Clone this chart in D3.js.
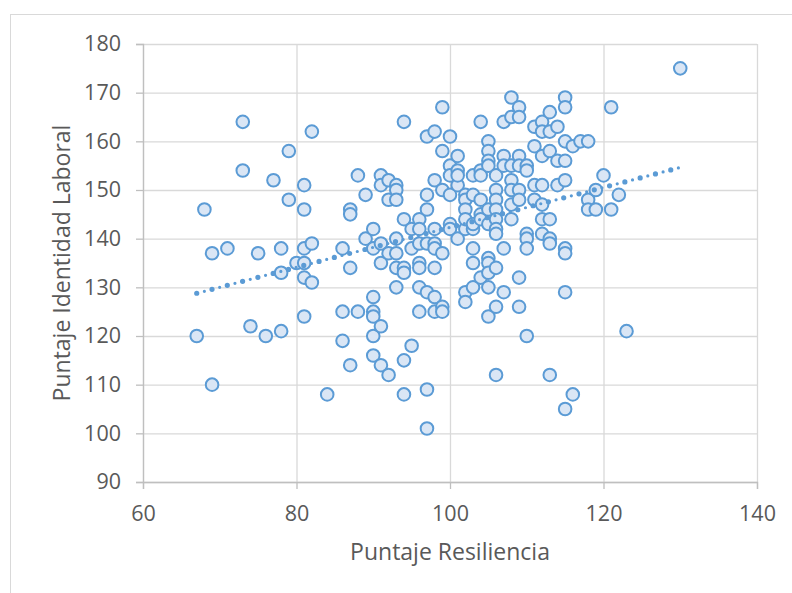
<!DOCTYPE html>
<html>
<head>
  <title>Resiliencia vs Identidad Laboral</title>
  <script src="https://d3js.org/d3.v7.min.js"></script>
  <style>
    body { margin: 0; background: #fff; }
    svg text { font-family: "Open Sans", sans-serif; fill: #595959; }
  </style>
</head>
<body>

<div id="scatter-plot"></div>

<script>
// Puntaje Resiliencia (x) and Puntaje Identidad Laboral (y)
const resiliencia = [
  68, 67, 69, 69, 71, 73, 73, 74, 75, 76, 77, 78, 78, 78, 79, 79, 80, 81, 81, 81,
  81, 81, 81, 82, 82, 82, 84, 86, 86, 86, 87, 87, 87, 87, 88, 88, 89, 89,
  90, 90, 90, 90, 90, 90, 90,
  91, 91, 91, 91, 91, 91,
  92, 92, 92, 92,
  93, 93, 93, 93, 93, 93, 93,
  94, 94, 94, 94, 94, 94,
  95, 95, 95,
  96, 96, 96, 96, 96, 96, 96,
  97, 97, 97, 97, 97, 97, 97,
  98, 98, 98, 98, 98, 98, 98, 98,
  99, 99, 99, 99, 99, 99,
  100, 100, 100, 100, 100, 100,
  101, 101, 101, 101, 101,
  102, 102, 102, 102, 102, 102, 102,
  103, 103, 103, 103, 103, 103, 103,
  104, 104, 104, 104, 104, 104, 104,
  105, 105, 105, 105, 105, 105, 105, 105, 105, 105, 105,
  106, 106, 106, 106, 106, 106, 106, 106, 106, 106,
  107, 107, 107, 107, 107,
  108, 108, 108, 108, 108, 108, 108,
  109, 109, 109, 109, 109, 109, 109, 109,
  110, 110, 110, 110, 110, 110,
  111, 111, 111, 111,
  112, 112, 112, 112, 112, 112, 112,
  113, 113, 113, 113, 113, 113, 113,
  114, 114, 114,
  115, 115, 115, 115, 115, 115, 115, 115, 115,
  116, 116, 117, 118, 118, 118, 119, 119, 120, 121, 121, 122, 123, 130
];
const identidad = [
  146, 120, 137, 110, 138, 164, 154, 122, 137, 120, 152, 138, 133, 121, 158, 148, 135, 151, 146, 138,
  132, 124, 135, 162, 131, 139, 108, 138, 125, 119, 146, 145, 134, 114, 153, 125, 149, 140,
  142, 138, 128, 125, 124, 120, 116,
  153, 151, 139, 135, 122, 114,
  152, 148, 137, 112,
  151, 150, 148, 140, 137, 134, 130,
  164, 144, 134, 133, 115, 108,
  142, 138, 118,
  144, 142, 135, 134, 130, 125, 139,
  161, 149, 146, 129, 109, 101, 139,
  162, 152, 142, 139, 138, 134, 128, 125,
  167, 158, 150, 137, 126, 125,
  161, 155, 153, 149, 143, 142,
  157, 154, 151, 140, 153,
  149, 148, 146, 142, 129, 127, 144,
  153, 149, 142, 138, 135, 130, 143,
  164, 154, 153, 148, 145, 144, 132,
  160, 158, 156, 146, 143, 136, 135, 133, 130, 124, 155,
  153, 150, 148, 146, 144, 142, 141, 134, 126, 112,
  164, 157, 155, 138, 129,
  169, 165, 155, 152, 150, 147, 144,
  167, 165, 157, 155, 150, 148, 132, 126,
  155, 154, 141, 140, 138, 120,
  163, 159, 151, 148,
  164, 162, 157, 151, 147, 144, 141,
  166, 162, 158, 144, 140, 139, 112,
  163, 156, 151,
  169, 167, 160, 156, 152, 138, 137, 129, 105,
  159, 108, 160, 160, 148, 146, 150, 146, 153, 167, 146, 149, 121, 175
];
const xTicks = [60, 80, 100, 120, 140];
const yTicks = [90, 100, 110, 120, 130, 140, 150, 160, 170, 180];

const data = resiliencia.map((x, i) => ({ x: x, y: identidad[i] }));

const W = 792, H = 593;
const margin = { top: 44, right: 35, bottom: 111, left: 143 };
const width = W - margin.left - margin.right;
const height = H - margin.top - margin.bottom;

const root = d3.select("#scatter-plot")
  .append("svg")
  .attr("width", W)
  .attr("height", H);

// chart frame (runs off the right and bottom edge)
root.append("rect")
  .attr("x", 10.5).attr("y", 14.5)
  .attr("width", 820).attr("height", 620)
  .attr("fill", "#fff")
  .attr("stroke", "#d9d9d9");

const svg = root.append("g")
  .attr("transform", `translate(${margin.left},${margin.top})`);

const xScale = d3.scaleLinear().domain([60, 140]).range([0, width]);
const yScale = d3.scaleLinear().domain([90, 180]).range([height, 0]);

// gridlines
svg.append("g")
  .attr("class", "grid")
  .call(d3.axisLeft(yScale).tickValues(yTicks).tickSize(-width).tickFormat(""))
  .call(g => g.select(".domain").remove());
svg.append("g")
  .attr("class", "grid")
  .attr("transform", `translate(0,${height})`)
  .call(d3.axisBottom(xScale).tickValues(xTicks).tickSize(-height).tickFormat(""))
  .call(g => g.select(".domain").remove());
svg.selectAll(".grid line").attr("stroke", "#d9d9d9").attr("stroke-width", 1.3);

// axes
const xAxis = svg.append("g")
  .attr("transform", `translate(0,${height})`)
  .call(d3.axisBottom(xScale).tickValues(xTicks).tickSizeOuter(0).tickSize(7).tickPadding(17));
const yAxis = svg.append("g")
  .call(d3.axisLeft(yScale).tickValues(yTicks).tickSizeOuter(0).tickSize(7).tickPadding(15));
[xAxis, yAxis].forEach(a => {
  a.select(".domain").attr("stroke", "#bfbfbf").attr("stroke-width", 1.3);
  a.selectAll(".tick line").attr("stroke", "#bfbfbf").attr("stroke-width", 1.3);
  a.selectAll("text").attr("font-size", 21.5).attr("fill", "#595959")
    .style("font-family", "'Open Sans', sans-serif");
});

// points
svg.selectAll("circle")
  .data(data)
  .enter()
  .append("circle")
  .attr("cx", d => xScale(d.x))
  .attr("cy", d => yScale(d.y))
  .attr("r", 6.3)
  .attr("fill", "#dae6f5")
  .attr("stroke", "#5b9bd5")
  .attr("stroke-width", 2);

// linear trendline (least squares)
const mx = d3.mean(data, d => d.x), my = d3.mean(data, d => d.y);
const slope = d3.sum(data, d => (d.x - mx) * (d.y - my)) / d3.sum(data, d => (d.x - mx) ** 2);
const icpt = my - slope * mx;
const xr = d3.extent(data, d => d.x);
const trend = xr.map(x => [xScale(x), yScale(icpt + slope * x)]);
const line = d3.line();
svg.append("path")
  .attr("d", line(trend))
  .attr("stroke", "#5b9bd5").attr("stroke-width", 5.2)
  .attr("stroke-linecap", "round").attr("stroke-dasharray", "0 15.8")
  .attr("fill", "none");
svg.append("path")
  .attr("d", line(trend))
  .attr("stroke", "#5b9bd5").attr("stroke-width", 3.2)
  .attr("stroke-linecap", "round").attr("stroke-dasharray", "0 15.8")
  .attr("stroke-dashoffset", -7.9)
  .attr("fill", "none");

// axis titles
root.append("text")
  .attr("x", margin.left + width / 2).attr("y", 560)
  .attr("text-anchor", "middle")
  .attr("font-size", 23)
  .text("Puntaje Resiliencia");
root.append("text")
  .attr("transform", `translate(70,${margin.top + height / 2}) rotate(-90)`)
  .attr("text-anchor", "middle")
  .attr("font-size", 23)
  .text("Puntaje Identidad Laboral");
</script>

</body>
</html>
